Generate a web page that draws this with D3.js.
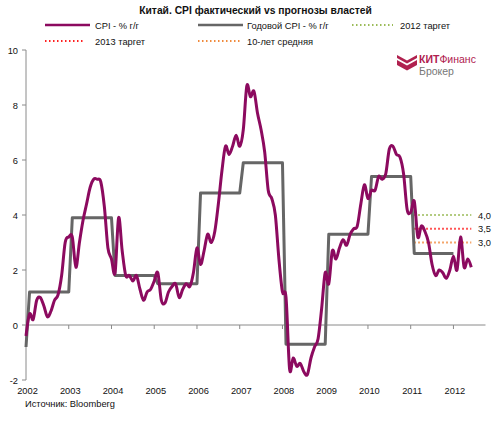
<!DOCTYPE html>
<html><head><meta charset="utf-8">
<script src="https://cdn.jsdelivr.net/npm/d3@7"></script>
<style>body{margin:0;background:#fff}svg{display:block;font-family:"Liberation Sans",Arial,sans-serif}</style>
</head><body><svg id="c" width="501" height="421"></svg>
<script>
// Monthly CPI y/y, starting Dec 2002 (index 0)
const cpiMonthly = [-0.4,
 0.4,0.2,0.9,1.0,0.7,0.3,0.5,0.9,1.1,1.8,3.0,3.2,
 3.2,2.1,3.0,3.8,4.4,5.0,5.3,5.3,5.2,4.3,2.8,2.4,
 1.9,3.9,2.7,1.8,1.8,1.6,1.8,1.3,0.9,1.2,1.3,1.6,
 1.9,0.9,0.8,1.2,1.4,1.5,1.0,1.3,1.5,1.4,1.9,2.8,
 2.2,2.7,3.3,3.0,3.4,4.4,5.6,6.5,6.2,6.5,6.9,6.5,
 7.1,8.7,8.3,8.5,7.7,7.1,6.3,4.9,4.6,4.0,2.4,1.2,
 1.0,-1.6,-1.2,-1.5,-1.4,-1.7,-1.8,-1.2,-0.8,-0.5,0.6,1.9,
 1.5,2.7,2.4,2.8,3.1,2.9,3.3,3.5,3.6,4.4,5.1,4.6,
 4.9,4.9,5.4,5.3,5.5,6.4,6.5,6.2,6.1,5.5,4.2,4.1,
 4.5,3.2,3.6,3.4,3.0,2.2,1.8,2.0,1.9,1.7,2.0,2.5,
 2.0,3.2,2.1,2.4,2.1];
// Annual average CPI, 2002..2012
const annualYears = [2002,2003,2004,2005,2006,2007,2008,2009,2010,2011,2012];
const annualCPI = [-0.8,1.2,3.9,1.8,1.5,4.8,5.9,-0.7,3.3,5.4,2.6];
const yearLabels = ["2002","2003","2004","2005","2006","2007","2008","2009","2010","2011","2012"];
const yTicks = [-2,0,2,4,6,8,10];
const targetNames = ["2012 таргет","2013 таргет","10-лет средняя"];
const targetValues = [4.0,3.5,3.0];
const targetLabels = ["4,0","3,5","3,0"];
const targetStart = 109, targetEnd = 125;

// Build gray step series: index 0 = 2002 avg, then each month of year Y = avg(Y)
const annualMonthly = [annualCPI[0]];
for (let k = 1; k < annualCPI.length; k++) for (let m = 0; m < 12; m++) annualMonthly.push(annualCPI[k]);

const svg = d3.select("#c");
const x = d3.scaleLinear().domain([0,129]).range([26,485.5]);
const y = d3.scaleLinear().domain([-2,10]).range([380,50]);

const purple = "#8C0A5F", gray = "#666666", axisCol = "#8a8a8a";
const tColors = ["#9BBB59","#FF2020","#F08A3C"];

// title
svg.append("text").attr("x",255.5).attr("y",14).attr("text-anchor","middle")
  .attr("font-size","10.3px").attr("font-weight","bold").attr("fill","#111")
  .text("Китай. CPI фактический vs прогнозы  властей");

// legend
const leg = [
  {x1:45,x2:90,y:25,c:purple,dash:null,w:2.5,t:"CPI - % г/г"},
  {x1:198,x2:243,y:25,c:gray,dash:null,w:2.5,t:"Годовой CPI - % г/г"},
  {x1:352,x2:393,y:25,c:tColors[0],dash:"1.5,2.5",w:2,t:targetNames[0]},
  {x1:45,x2:84,y:41,c:tColors[1],dash:"1.5,2.5",w:2,t:targetNames[1]},
  {x1:198,x2:240,y:41,c:tColors[2],dash:"1.5,2.5",w:2,t:targetNames[2]}
];
leg.forEach((d,i)=>{
  svg.append("line").attr("x1",d.x1).attr("x2",d.x2).attr("y1",d.y).attr("y2",d.y)
    .attr("stroke",d.c).attr("stroke-width",d.w).attr("stroke-dasharray",d.dash);
  const tx = i===2 ? 400 : (d.x1===45?95:247);
  svg.append("text").attr("x",tx).attr("y",d.y+3.5).attr("font-size","9.3px").attr("fill","#111").text(d.t);
});

// axes
const gAx = svg.append("g");
gAx.append("line").attr("x1",26).attr("x2",26).attr("y1",y(10)).attr("y2",y(-2)).attr("stroke",axisCol);
yTicks.forEach(v=>{
  gAx.append("line").attr("x1",22).attr("x2",26).attr("y1",y(v)).attr("y2",y(v)).attr("stroke",axisCol);
  gAx.append("text").attr("x",18).attr("y",y(v)+3.5).attr("text-anchor","end")
    .attr("font-size","9.3px").attr("fill","#111").text(v);
});
gAx.append("line").attr("x1",26).attr("x2",485.5).attr("y1",y(0)).attr("y2",y(0)).attr("stroke",axisCol);
yearLabels.forEach((t,i)=>{
  const xi = x(i*12);
  if (i>0) gAx.append("line").attr("x1",xi).attr("x2",xi).attr("y1",y(0)).attr("y2",y(0)+4).attr("stroke",axisCol);
  gAx.append("text").attr("x",xi+1.5).attr("y",393.5).attr("text-anchor","middle")
    .attr("font-size","9.3px").attr("fill","#111").text(t);
});
svg.append("text").attr("x",25).attr("y",407).attr("font-size","9.3px").attr("fill","#111").text("Источник: Bloomberg");

// target lines
targetValues.forEach((v,i)=>{
  svg.append("line").attr("x1",x(targetStart)).attr("x2",x(targetEnd)).attr("y1",y(v)).attr("y2",y(v))
    .attr("stroke",tColors[i]).attr("stroke-width",2).attr("stroke-dasharray","1.5,2.5");
  svg.append("text").attr("x",478).attr("y",y(v)+3.5).attr("font-size","9.3px").attr("fill","#111").text(targetLabels[i]);
});

// annual gray line
svg.append("path").datum(annualMonthly)
  .attr("d",d3.line().x((d,i)=>x(i)).y(d=>y(d)))
  .attr("fill","none").attr("stroke",gray).attr("stroke-width",3).attr("stroke-linejoin","round");

// monthly CPI line
svg.append("path").datum(cpiMonthly)
  .attr("d",d3.line().x((d,i)=>x(i)).y(d=>y(d)).curve(d3.curveCardinal.tension(0)))
  .attr("fill","none").attr("stroke",purple).attr("stroke-width",3).attr("stroke-linejoin","round");

// logo
const lg = svg.append("g");
lg.append("path").attr("d","M397,55 L407,60.5 L417,55 L417,58 L407,63.5 L397,58 Z").attr("fill","#B0214F");
lg.append("path").attr("d","M397,60 L407,65.5 L417,60 L417,65 L407,70.5 L397,65 Z").attr("fill","#B0214F");
const t1 = lg.append("text").attr("x",419).attr("y",63).attr("font-size","10.5px").attr("fill","#B0214F");
t1.append("tspan").attr("font-weight","bold").text("КИТ");
t1.append("tspan").text("Финанс");
lg.append("text").attr("x",419).attr("y",75).attr("font-size","10.5px").attr("fill","#777").text("Брокер");
</script></body></html>
